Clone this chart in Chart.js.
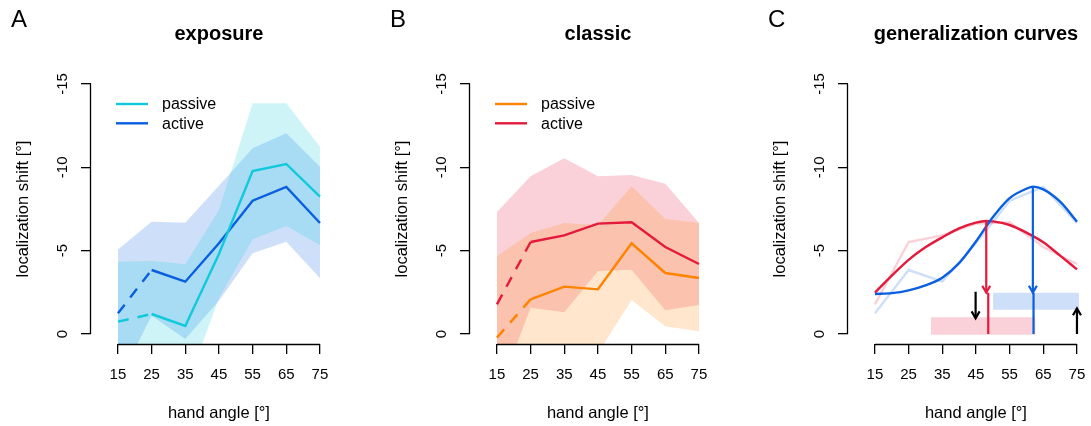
<!DOCTYPE html>
<html>
<head>
<meta charset="utf-8">
<script src="https://cdn.jsdelivr.net/npm/chart.js@4.4.1/dist/chart.umd.min.js"></script>
<style>
  html, body { margin: 0; padding: 0; background: #fff; overflow: hidden; }
  body { width: 1091px; height: 426px; position: relative; }
  .panel { position: absolute; top: 0; width: 438px; height: 426px; }
</style>
</head>
<body>
<div class="panel" style="left:0px"><canvas id="chartA" width="438" height="426"></canvas></div>
<div class="panel" style="left:379px"><canvas id="chartB" width="438" height="426"></canvas></div>
<div class="panel" style="left:757px"><canvas id="chartC" width="438" height="426"></canvas></div>
<script>
// hand angles and axis ticks
const hands = [15, 25, 35, 45, 55, 65, 75]
const yTicks = [0, -5, -10, -15]

// A: exposure
const expPassive = [-0.74, -1.2, -0.48, -4.8, -9.78, -10.2, -8.24]
const expPassiveUpper = [-4.34, -4.38, -4.18, -7.44, -13.84, -13.84, -11.24]
const expPassiveLower = [2.86, 1.98, 3.4, -2.16, -5.68, -6.48, -5.34]
const expActive = [-1.24, -3.84, -3.14, -5.45, -8.0, -8.82, -6.66]
const expActiveUpper = [-5.06, -6.74, -6.68, -8.9, -11.14, -12.04, -10.04]
const expActiveLower = [2.9, -1.1, 0.3, -2.0, -4.84, -5.54, -3.34]

// B: classic
const clsPassive = [0.22, -2.08, -2.84, -2.68, -5.44, -3.66, -3.36]
const clsPassiveUpper = [-4.66, -6.06, -6.66, -6.52, -8.86, -6.9, -6.66]
const clsPassiveLower = [5.1, 1.9, 0.98, 1.16, -2.04, -0.46, -0.16]
const clsActive = [-1.78, -5.52, -5.92, -6.62, -6.7, -5.22, -4.2]
const clsActiveUpper = [-7.32, -9.46, -10.54, -9.46, -9.54, -9.02, -6.66]
const clsActiveLower = [3.76, -1.58, -1.3, -3.78, -3.86, -1.42, -1.74]

// C: generalization curves
const redCurveX = [15, 20, 25, 30, 35, 40, 45, 48, 50, 55, 60, 65, 70, 75]
const redCurveY = [-2.48, -3.5, -4.45, -5.2, -5.8, -6.34, -6.68, -6.78, -6.76, -6.54, -6.08, -5.5, -4.7, -3.88]
const blueCurveX = [15, 20, 25, 30, 35, 40, 45, 50, 55, 60, 62, 65, 70, 75]
const blueCurveY = [-2.4, -2.45, -2.62, -2.92, -3.38, -4.25, -5.55, -7.0, -8.15, -8.72, -8.84, -8.68, -7.94, -6.74]
const redBarX = [31.6, 62.7]
const redBarY = [-1.0, 0.05]
const blueBarX = [50.1, 75.6]
const blueBarY = [-2.48, -1.45]
const redArrowX = 48.06, redArrowY = [-6.78, -2.48]
const redDropX = 48.65, redDropY = [-2.48, 0]
const blueArrowX = 61.9, blueArrowY = [-8.84, -2.48]
const blueDropX = 62.1, blueDropY = [-2.48, 0]
const downArrowX = 44.9, downArrowY = [-2.54, -0.94]
const upArrowX = 75, upArrowY = [0, -1.54]

const cyan = [16, 202, 219], blue = [10, 95, 224], orange = [255, 130, 0], red = [228, 26, 60]
const rgba = (c, a) => `rgba(${c[0]},${c[1]},${c[2]},${a})`
const FONT = '"Liberation Sans", Arial, Helvetica, sans-serif'

Chart.defaults.font.family = FONT
Chart.defaults.color = '#000'
Chart.defaults.elements.point.radius = 0

const pts = (xs, ys) => xs.map((x, i) => ({x: x, y: ys[i]}))

function band(upper, lower, col) {
  return [
    {data: pts(hands, upper), borderColor: 'rgba(0,0,0,0)', borderWidth: 0, backgroundColor: rgba(col, 0.2), fill: '+1', order: 5},
    {data: pts(hands, lower), borderColor: 'rgba(0,0,0,0)', borderWidth: 0, fill: false, order: 5}
  ]
}

function meanLine(vals, col) {
  return {
    data: pts(hands, vals), borderColor: rgba(col, 1), borderWidth: 2.4, fill: false, order: 1,
    segment: { borderDash: ctx => ctx.p0DataIndex === 0 ? [11, 9] : undefined }
  }
}

function seg(x, ys, color, arrow, order) {
  return {data: [{x: x, y: ys[0]}, {x: x, y: ys[1]}], borderColor: color, borderWidth: 2.2, fill: false, arrow: arrow, order: order}
}

function rect(xs, ys, color) {
  return [
    {data: pts(xs, [ys[0], ys[0]]), borderColor: 'rgba(0,0,0,0)', borderWidth: 0, backgroundColor: color, fill: '+1', order: 6},
    {data: pts(xs, [ys[1], ys[1]]), borderColor: 'rgba(0,0,0,0)', borderWidth: 0, fill: false, order: 6}
  ]
}

// R-style axis lines that only run from first to last tick
const axisLines = {
  id: 'axisLines',
  afterDraw(chart) {
    const {ctx, chartArea, scales} = chart
    ctx.save()
    ctx.strokeStyle = '#000'
    ctx.lineWidth = 1.3
    const yb = Math.round(chartArea.bottom) + 0.5
    ctx.beginPath()
    ctx.moveTo(scales.x.getPixelForValue(hands[0]), yb)
    ctx.lineTo(scales.x.getPixelForValue(hands[hands.length - 1]), yb)
    const xl = Math.round(chartArea.left) - 0.5
    ctx.moveTo(xl, scales.y.getPixelForValue(yTicks[0]))
    ctx.lineTo(xl, scales.y.getPixelForValue(yTicks[yTicks.length - 1]))
    ctx.stroke()
    ctx.restore()
  }
}

const panelText = {
  id: 'panelText',
  afterDraw(chart, args, opts) {
    const {ctx, chartArea} = chart
    ctx.save()
    ctx.fillStyle = '#000'
    ctx.font = '24px ' + FONT
    ctx.textBaseline = 'alphabetic'
    ctx.fillText(opts.letter, 11, 26.7)
    if (opts.items) {
      ctx.font = '16px ' + FONT
      ctx.textBaseline = 'middle'
      opts.items.forEach((it, i) => {
        const y = chartArea.top + 30 + i * 19.3
        ctx.strokeStyle = it.color
        ctx.lineWidth = 2.4
        ctx.beginPath()
        ctx.moveTo(chartArea.left + 25, y)
        ctx.lineTo(chartArea.left + 57, y)
        ctx.stroke()
        ctx.fillText(it.label, chartArea.left + 71, y + 1)
      })
    }
    ctx.restore()
  }
}

const arrowHeads = {
  id: 'arrowHeads',
  afterDatasetsDraw(chart) {
    const ctx = chart.ctx
    chart.data.datasets.forEach((ds, i) => {
      if (!ds.arrow) return
      const el = chart.getDatasetMeta(i).data
      const a = el[el.length - 2], b = el[el.length - 1]
      const ang = Math.atan2(b.y - a.y, b.x - a.x)
      const len = 8, spread = Math.PI / 6
      ctx.save()
      ctx.strokeStyle = ds.borderColor
      ctx.lineWidth = ds.borderWidth
      ctx.beginPath()
      ctx.moveTo(b.x - len * Math.cos(ang - spread), b.y - len * Math.sin(ang - spread))
      ctx.lineTo(b.x, b.y)
      ctx.lineTo(b.x - len * Math.cos(ang + spread), b.y - len * Math.sin(ang + spread))
      ctx.stroke()
      ctx.restore()
    })
  }
}

function options(title, letter, items) {
  const grid = {drawOnChartArea: false, drawTicks: true, tickLength: 10, color: '#000', lineWidth: 1.3}
  return {
    responsive: false,
    animation: false,
    events: [],
    layout: {padding: {left: 0, right: 91.1, top: 0, bottom: 0}},
    plugins: {
      legend: {display: false},
      tooltip: {enabled: false},
      title: {display: true, text: title, fullSize: false, color: '#000',
        font: {size: 20, weight: 'bold'}, padding: {top: 22.5, bottom: 27.5}},
      panelText: {letter: letter, items: items}
    },
    scales: {
      x: {
        type: 'linear', min: 7, max: 83,
        afterBuildTicks: s => { s.ticks = hands.map(v => ({value: v})) },
        afterFit: s => { s.height = 82 },
        grid: grid,
        border: {display: false},
        ticks: {autoSkip: false, maxRotation: 0, padding: 12, font: {size: 15}, color: '#000'},
        title: {display: true, text: 'hand angle [°]', color: '#000', font: {size: 16.5}, padding: {top: 0, bottom: 2.6}}
      },
      y: {
        type: 'linear', reverse: true, min: -15.6, max: 0.6,
        afterBuildTicks: s => { s.ticks = yTicks.map(v => ({value: v})) },
        afterFit: s => { s.width = 91 },
        grid: grid,
        border: {display: false},
        ticks: {autoSkip: false, minRotation: 90, maxRotation: 90, crossAlign: 'center', padding: 7, font: {size: 15}, color: '#000'},
        title: {display: true, text: 'localization shift [°]', color: '#000', font: {size: 16.5}, padding: {top: 13.6, bottom: 0}}
      }
    }
  }
}

const plugins = [axisLines, panelText, arrowHeads]

new Chart(document.getElementById('chartA').getContext('2d'), {
  type: 'line',
  data: {datasets: [
    ...band(expPassiveUpper, expPassiveLower, cyan),
    ...band(expActiveUpper, expActiveLower, blue),
    meanLine(expPassive, cyan),
    meanLine(expActive, blue)
  ]},
  options: options('exposure', 'A', [{label: 'passive', color: rgba(cyan, 1)}, {label: 'active', color: rgba(blue, 1)}]),
  plugins: plugins
})

new Chart(document.getElementById('chartB').getContext('2d'), {
  type: 'line',
  data: {datasets: [
    ...band(clsPassiveUpper, clsPassiveLower, orange),
    ...band(clsActiveUpper, clsActiveLower, red),
    meanLine(clsPassive, orange),
    meanLine(clsActive, red)
  ]},
  options: options('classic', 'B', [{label: 'passive', color: rgba(orange, 1)}, {label: 'active', color: rgba(red, 1)}]),
  plugins: plugins
})

new Chart(document.getElementById('chartC').getContext('2d'), {
  type: 'line',
  data: {datasets: [
    ...rect(redBarX, redBarY, rgba(red, 0.2)),
    ...rect(blueBarX, blueBarY, rgba(blue, 0.2)),
    {data: pts(hands, clsActive), borderColor: rgba(red, 0.2), borderWidth: 2.4, fill: false, order: 4},
    {data: pts(hands, expActive), borderColor: rgba(blue, 0.2), borderWidth: 2.4, fill: false, order: 4},
    {data: pts(redCurveX, redCurveY), borderColor: rgba(red, 1), borderWidth: 2.4, fill: false, cubicInterpolationMode: 'monotone', order: 3},
    {data: pts(blueCurveX, blueCurveY), borderColor: rgba(blue, 1), borderWidth: 2.4, fill: false, cubicInterpolationMode: 'monotone', order: 2},
    seg(redArrowX, redArrowY, rgba(red, 1), true, 1),
    seg(redDropX, redDropY, rgba(red, 1), false, 1),
    seg(blueArrowX, blueArrowY, rgba(blue, 1), true, 1),
    seg(blueDropX, blueDropY, rgba(blue, 1), false, 1),
    seg(downArrowX, downArrowY, '#000', true, 1),
    seg(upArrowX, upArrowY, '#000', true, 1)
  ]},
  options: options('generalization curves', 'C', null),
  plugins: plugins
})
</script>
</body>
</html>
